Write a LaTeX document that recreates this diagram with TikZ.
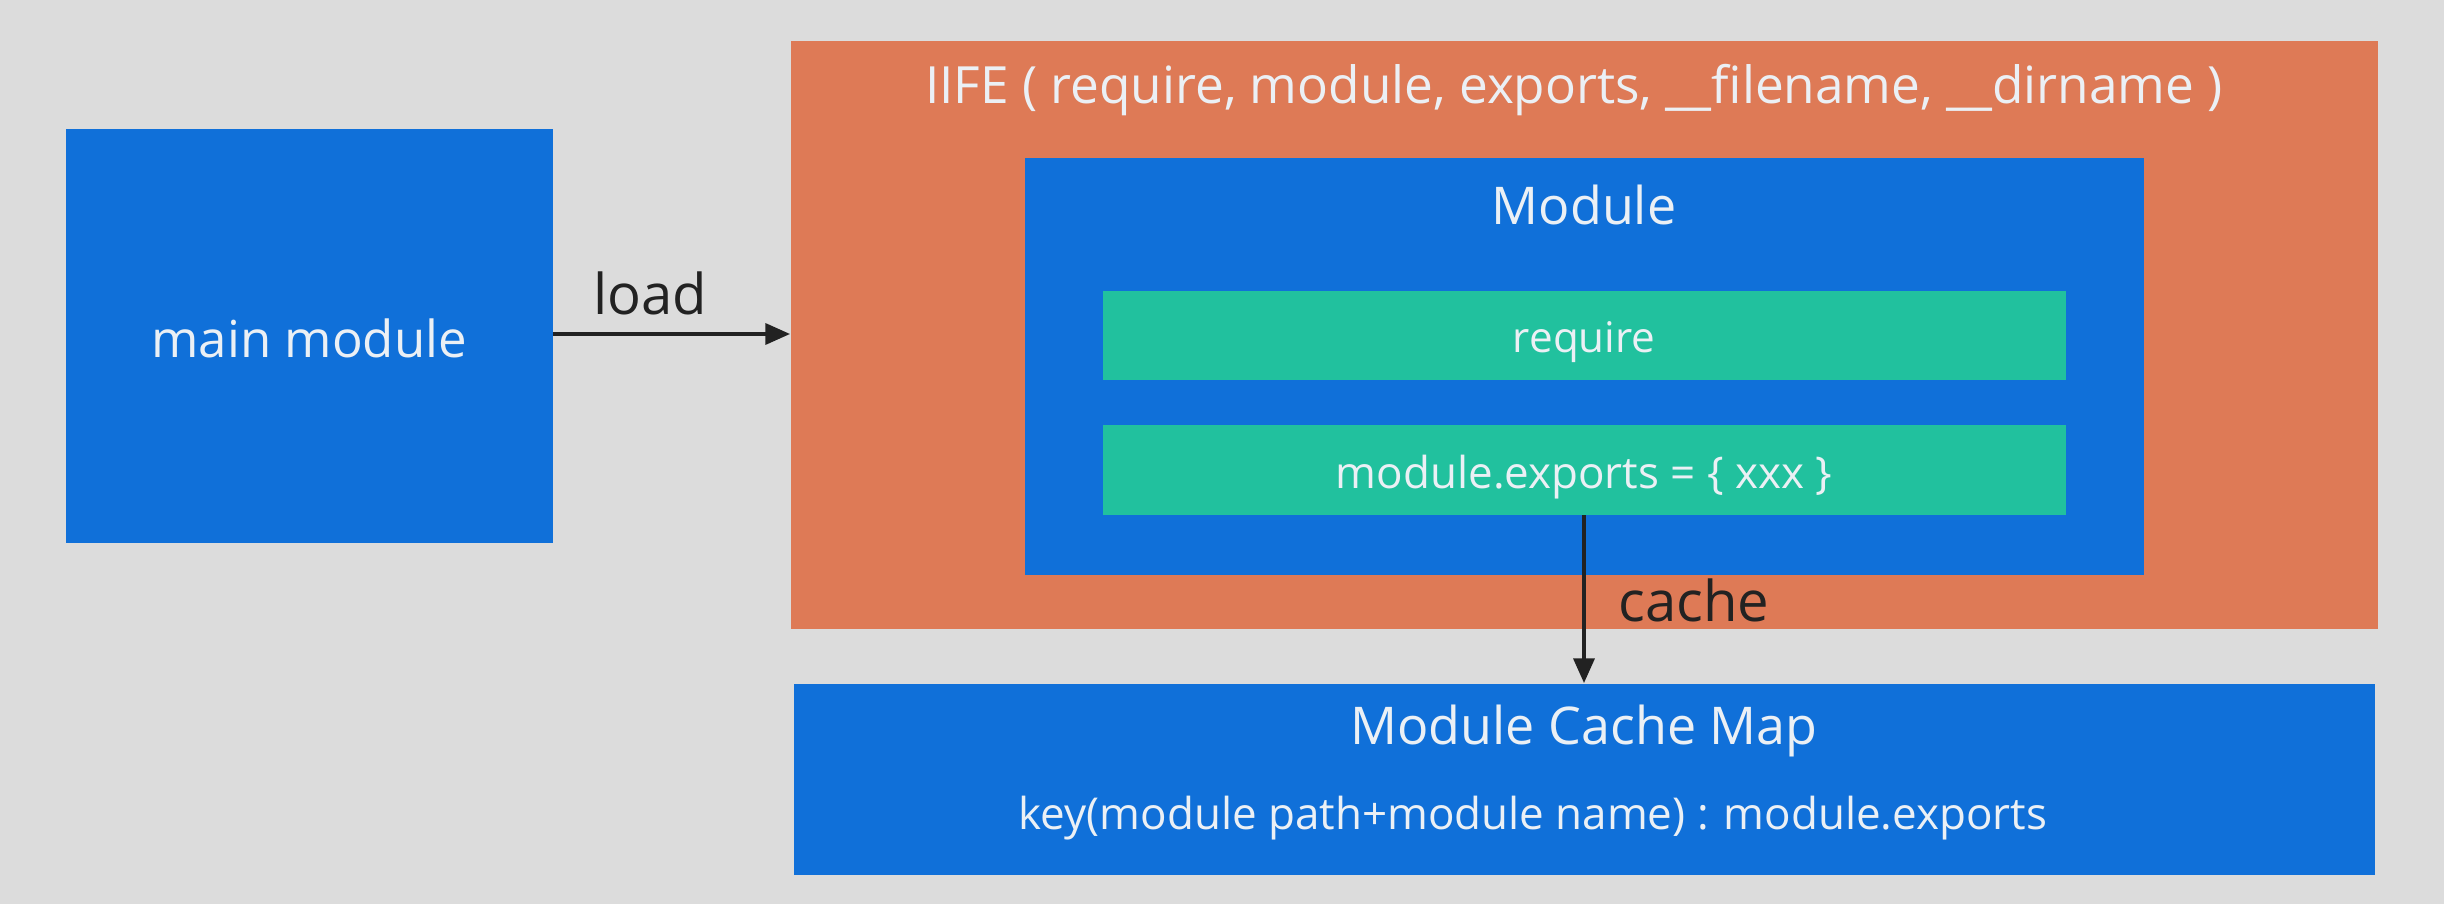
\documentclass[tikz,border=0pt]{standalone}
\usepackage{fontspec}
\setmainfont{Open Sans}
\usetikzlibrary{arrows.meta, positioning}
\definecolor{bggray}{RGB}{220, 220, 220}
\definecolor{modblue}{RGB}{16, 112, 217}
\definecolor{iifeorange}{RGB}{222, 122, 86}
\definecolor{barteal}{RGB}{33, 193, 158}
\definecolor{textlight}{RGB}{235, 240, 245}
\definecolor{textdark}{RGB}{34, 34, 34}

\begin{document}
\begin{tikzpicture}[
  box/.style={draw=none, anchor=north west, inner sep=0pt},
  title/.style={text=textlight, inner sep=0pt},
  conn/.style={-{Triangle[length=7pt, width=6pt]}, line width=0.9pt, draw=textdark},
  tag/.style={text=textdark, font=\fontsize{16}{19}\selectfont, inner sep=0pt}
]
  \fill[bggray] (0,0) rectangle (24.44,-9.04);
  \useasboundingbox (0,0) rectangle (24.44,-9.04);

  % boxes
  \node[box, fill=modblue, minimum width=4.87cm, minimum height=4.14cm] (main) at (0.65,-1.28) {};
  \node[title, font=\fontsize{14.5}{17}\selectfont, yshift=-0.03cm] (maintext) at (main.center) {main module};

  \node[box, fill=iifeorange, minimum width=15.87cm, minimum height=5.88cm] (iife) at (7.90,-0.40) {};
  \node[title, font=\fontsize{14.6}{17}\selectfont] (iifetitle) at (15.74,-0.90) {IIFE ( require, module, exports, \_\_filename, \_\_dirname )};

  \node[box, fill=modblue, minimum width=11.19cm, minimum height=4.17cm] (module) at (10.24,-1.57) {};
  \node[title, font=\fontsize{14.8}{17}\selectfont] (moduletitle) at (15.84,-2.05) {Module};

  \node[box, fill=barteal, minimum width=9.63cm, minimum height=0.89cm] (req) at (11.02,-2.90) {};
  \node[title, font=\fontsize{12}{14}\selectfont, yshift=-0.07cm] (reqtext) at (req.center) {require};

  \node[box, fill=barteal, minimum width=9.63cm, minimum height=0.90cm] (exports) at (11.02,-4.24) {};
  \node[title, font=\fontsize{12.5}{15}\selectfont, yshift=-0.07cm] (exportstext) at (exports.center) {module.exports = \{ xxx \}};

  \node[box, fill=modblue, minimum width=15.81cm, minimum height=1.91cm] (cachemap) at (7.93,-6.83) {};
  \node[title, font=\fontsize{14.8}{17}\selectfont] (cachetitle) at (15.84,-7.31) {Module Cache Map};
  \node[title, font=\fontsize{12.5}{15}\selectfont] (cachekey) at (15.33,-8.18) {key(module path+module name) : module.exports};

  % connectors
  \draw[conn] (main.east |- 0,-3.34) -- (iife.west |- 0,-3.34);
  \node[tag] (loadtag) at (6.50,-2.93) {load};
  \draw[conn] (exports.south -| 15.84,0) -- (cachemap.north -| 15.84,0);
  \node[tag] (cachetag) at (16.94,-6.00) {cache};
\end{tikzpicture}
\end{document}
